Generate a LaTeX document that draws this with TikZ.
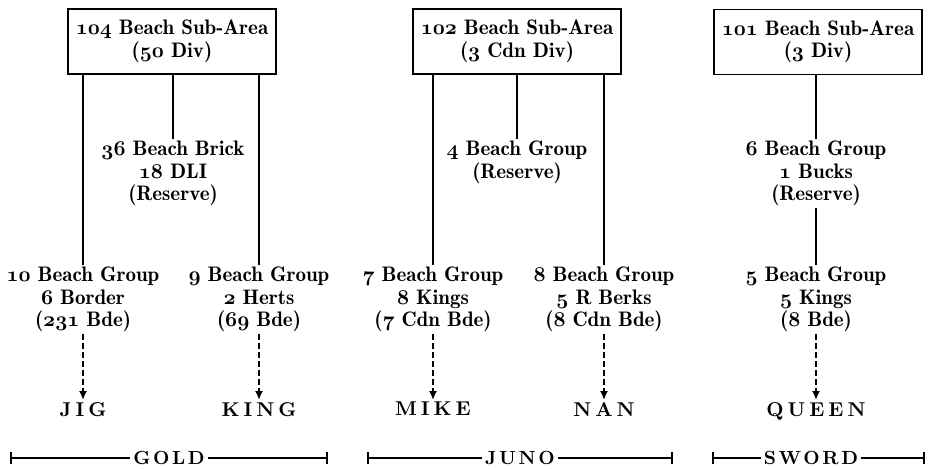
\documentclass[tikz,border=0pt]{standalone}
\usepackage{fontspec}
\newfontfamily\unitfont{lmromandemi10-regular.otf}
\newfontfamily\beachfont{lmroman10-bold.otf}[LetterSpace=20]
\newfontfamily\sectorfont{lmroman10-bold.otf}[LetterSpace=14]
\usetikzlibrary{arrows.meta}

\DeclareFontShape{OML}{cmm}{m}{it}{<-> cmmi10}{}
\DeclareFontShape{OML}{cmm}{b}{it}{<-> cmmib10}{}
\newcommand{\os}[1]{{\boldmath$\mathnormal{#1}$}}

\begin{document}
\begin{tikzpicture}[
		x=1pt, y=-1pt,
		every node/.style={font=\unitfont\fontsize{21}{22.5}\selectfont, align=center},
		area/.style={draw, line width=1.8pt, minimum width=208pt,
		minimum height=65pt, inner sep=2pt},
		unit/.style={anchor=north, inner sep=2pt},
		beach/.style={anchor=north, inner sep=2pt,
		font=\beachfont\fontsize{20}{24}\selectfont},
		sector/.style={inner sep=3pt, font=\sectorfont\fontsize{19}{22}\selectfont},
		link/.style={line width=1.8pt},
		lands/.style={line width=1.8pt, dash pattern=on 6pt off 3pt,
		-{Latex[length=9pt,width=8pt]}},
		span/.style={line width=1.8pt}
	]
		\useasboundingbox (0,0) rectangle (930,469);

		% Beach Sub-Areas
		\node[area] (sa104) at (172,41.5) {\os{104} Beach Sub-Area\\(\os{50} Div)};
		\node[area] (sa102) at (517,41.5) {\os{102} Beach Sub-Area\\(\os{3} Cdn Div)};
		\node[area] (sa101) at (818,42) {\os{101} Beach Sub-Area\\(\os{3} Div)};

		% reserves
		\node[unit] (br36) at (173,139) {\os{36} Beach Brick\\\os{18} DLI\\(Reserve)};
		\node[unit] (bg4) at (517,139) {\os{4} Beach Group\\(Reserve)};
		\node[unit] (bg6) at (816,139) {\os{6} Beach Group\\\os{1} Bucks\\(Reserve)};

		% assault beach groups
		\node[unit] (bg10) at (83,265) {\os{10} Beach Group\\\os{6} Border\\(\os{231} Bde)};
		\node[unit] (bg9) at (259,265) {\os{9} Beach Group\\\os{2} Herts\\(\os{69} Bde)};
		\node[unit] (bg7) at (433,265) {\os{7} Beach Group\\\os{8} Kings\\(\os{7} Cdn Bde)};
		\node[unit] (bg8) at (604,265) {\os{8} Beach Group\\\os{5} R Berks\\(\os{8} Cdn Bde)};
		\node[unit] (bg5) at (816,265) {\os{5} Beach Group\\\os{5} Kings\\(\os{8} Bde)};

		% beaches
		\node[beach] (jig) at (83,400) {JIG};
		\node[beach] (king) at (259,400) {KING};
		\node[beach] (mike) at (433,400) {MIKE};
		\node[beach] (nan) at (604,400) {NAN};
		\node[beach] (queen) at (816,400) {QUEEN};

		% sectors
		\node[sector] (gold) at (169,458) {GOLD};
		\node[sector] (juno) at (520,458) {JUNO};
		\node[sector] (sword) at (811,458) {SWORD};
		\coordinate (goldL) at (10,458);
		\coordinate (goldR) at (328,458);
		\coordinate (junoL) at (367,458);
		\coordinate (junoR) at (673,458);
		\coordinate (swordL) at (712,458);
		\coordinate (swordR) at (925,458);

		% chain of command
		\draw[link] (sa104.south -| bg10.north) -- (bg10.north);
		\draw[link] (sa104.south -| br36.north) -- (br36.north);
		\draw[link] (sa104.south -| bg9.north) -- (bg9.north);
		\draw[link] (sa102.south -| bg7.north) -- (bg7.north);
		\draw[link] (sa102.south -| bg4.north) -- (bg4.north);
		\draw[link] (sa102.south -| bg8.north) -- (bg8.north);
		\draw[link] (sa101.south -| bg6.north) -- (bg6.north);
		\draw[link] (bg6.south) -- (bg5.north);

		% landings
		\draw[lands] (bg10.south) -- (jig.north);
		\draw[lands] (bg9.south) -- (king.north);
		\draw[lands] (bg7.south) -- (mike.north);
		\draw[lands] (bg8.south) -- (nan.north);
		\draw[lands] (bg5.south) -- (queen.north);

		% sector extents
		\draw[span, {Bar[width=12pt]}-] (goldL) -- (gold.west);
		\draw[span, -{Bar[width=12pt]}] (gold.east) -- (goldR);
		\draw[span, {Bar[width=12pt]}-] (junoL) -- (juno.west);
		\draw[span, -{Bar[width=12pt]}] (juno.east) -- (junoR);
		\draw[span, {Bar[width=12pt]}-] (swordL) -- (sword.west);
		\draw[span, -{Bar[width=12pt]}] (sword.east) -- (swordR);
	\end{tikzpicture}
\end{document}
